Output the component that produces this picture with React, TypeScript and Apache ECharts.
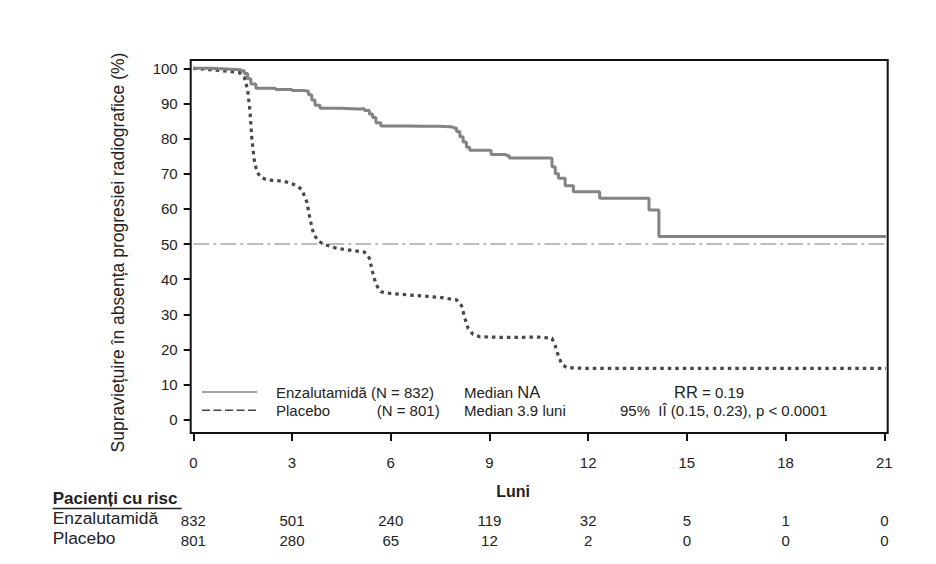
import React, { useEffect, useRef } from "react";
import * as echarts from "echarts";

// ---- data ----
const monthTicks = [0, 3, 6, 9, 12, 15, 18, 21];
const enzRisk = [832, 501, 240, 119, 32, 5, 1, 0];
const pboRisk = [801, 280, 65, 12, 2, 0, 0, 0];

// Enzalutamidă Kaplan–Meier points [month, %]
const enzMonths = [0, 0.5, 1.0, 1.45, 1.55, 1.65, 1.75, 1.9, 2.5, 3.0, 3.35, 3.5, 3.6, 3.7, 3.85, 4.5, 5.0, 5.2, 5.35, 5.45, 5.55, 5.7, 6.5, 7.0, 7.5, 7.9, 8.0, 8.1, 8.2, 8.3, 8.4, 9.0, 9.05, 9.5, 9.6, 10.85, 10.9, 11.0, 11.1, 11.3, 11.55, 12.35, 13.85, 14.15, 21.05];
const enzSurv = [100, 99.8, 99.6, 99.3, 98.5, 97, 95.5, 94.3, 94.0, 93.7, 93.5, 92.5, 91, 89.5, 88.6, 88.4, 88.5, 88.0, 87, 86, 84.5, 83.6, 83.5, 83.5, 83.3, 83.0, 82.0, 80.5, 79, 77.5, 76.7, 76.6, 75.5, 75.2, 74.5, 74.4, 72, 70, 68.7, 66.6, 64.9, 63.0, 59.7, 52.1, 52.1];

// Placebo Kaplan–Meier points [month, %]
const pboMonths = [0, 0.5, 1.0, 1.4, 1.55, 1.65, 1.72, 1.78, 1.85, 1.93, 2.05, 2.25, 2.6, 2.85, 3.1, 3.3, 3.45, 3.55, 3.65, 3.8, 4.0, 4.35, 4.8, 5.2, 5.35, 5.45, 5.55, 5.7, 6.0, 6.7, 7.5, 8.0, 8.15, 8.25, 8.35, 8.5, 8.7, 9.5, 10.5, 10.9, 11.0, 11.1, 11.2, 11.35, 12, 21.05];
const pboSurv = [100, 99.6, 99.2, 98.8, 97.5, 94, 88, 80, 74, 70.6, 69, 68.2, 68.0, 67.6, 66.8, 65.5, 62, 57, 53, 50.8, 49.8, 48.8, 48.2, 47.7, 46.0, 42, 38.5, 36.4, 35.9, 35.4, 34.8, 34.1, 32.5, 29, 26, 24.3, 23.6, 23.4, 23.5, 23.2, 21, 18, 15.8, 14.8, 14.6, 14.6];

const medianLevel = 50;
const medianSpan = [0, 21.05];

const FONT = "'Liberation Sans', Arial, sans-serif";

export default function App() {
  const ref = useRef<HTMLDivElement>(null);

  useEffect(() => {
    if (!ref.current) return;
    const chart = echarts.init(ref.current, null, { renderer: "svg" });

    const enzData = enzMonths.map((m, i) => [m, enzSurv[i]]);
    const pboData = pboMonths.map((m, i) => [m, pboSurv[i]]);
    const medData = medianSpan.map((m) => [m, medianLevel]);

    const riskAxis = (vals: number[], offset: number) => ({
      type: "value",
      gridIndex: 0,
      position: "bottom",
      min: 0,
      max: 21,
      interval: 3,
      offset,
      axisLine: { show: false, onZero: false },
      axisTick: { show: false },
      splitLine: { show: false },
      axisLabel: {
        margin: 0,
        fontFamily: FONT,
        fontSize: 15,
        color: "#222",
        formatter: (v: number) => String(vals[Math.round(v / 3)]),
      },
    });

    const txt = (text: string, x: number, y: number, extra: any = {}) => ({
      type: "text",
      x,
      y,
      style: {
        text,
        fontFamily: FONT,
        fontSize: 15,
        fill: "#222",
        verticalAlign: "middle",
        ...extra,
      },
    });

    chart.setOption({
      animation: false,
      backgroundColor: "#fff",
      grid: { left: 193.3, right: 51.7, top: 68.3, bottom: 144.3, containLabel: false },
      xAxis: [
        {
          type: "value",
          min: 0,
          max: 21,
          interval: 3,
          offset: 13.3,
          axisLine: { show: false, onZero: false },
          axisTick: { show: true, inside: false, length: 8, lineStyle: { color: "#111", width: 2 } },
          splitLine: { show: false },
          axisLabel: { margin: 22, fontFamily: FONT, fontSize: 15, color: "#222",
            formatter: (v: number) => (monthTicks.includes(v) ? String(v) : "") },
        },
        riskAxis(enzRisk, 93.6),
        riskAxis(pboRisk, 113.6),
      ],
      yAxis: {
        type: "value",
        min: 0,
        max: 100,
        interval: 10,
        offset: 2.6,
        axisLine: { show: false, onZero: false },
        axisTick: { show: true, length: 7, lineStyle: { color: "#111", width: 2 } },
        splitLine: { show: false },
        axisLabel: { margin: 13, fontFamily: FONT, fontSize: 15, color: "#222" },
      },
      series: [
        {
          type: "line",
          data: medData,
          symbol: "none",
          silent: true,
          clip: false,
          lineStyle: { color: "#a8a8a8", width: 1.5, type: [16, 4, 3, 4] },
          z: 1,
        },
        {
          name: "Enzalutamidă",
          type: "line",
          data: enzData,
          step: "end",
          symbol: "none",
          clip: false,
          lineStyle: { color: "#838383", width: 3 },
          z: 3,
        },
        {
          name: "Placebo",
          type: "line",
          data: pboData,
          symbol: "none",
          clip: false,
          lineStyle: { color: "#474747", width: 3.2, type: [3.5, 4], cap: "butt" },
          z: 2,
        },
      ],
      graphic: [
        {
          type: "rect",
          shape: { x: 190.7, y: 60, width: 697, height: 373 },
          style: { fill: "none", stroke: "#111", lineWidth: 2 },
          silent: true,
          z: 10,
        },
        {
          type: "text",
          x: 118,
          y: 252.5,
          rotation: Math.PI / 2,
          style: {
            text: "Supraviețuire în absența progresiei radiografice (%)",
            fontFamily: FONT,
            fontSize: 17.5,
            fill: "#222",
            align: "center",
            verticalAlign: "middle",
          },
        },
        // legend
        { type: "line", shape: { x1: 202, y1: 392, x2: 257, y2: 392 }, style: { stroke: "#858585", lineWidth: 1.5 } },
        { type: "line", shape: { x1: 202, y1: 410.3, x2: 257, y2: 410.3 }, style: { stroke: "#444", lineWidth: 1.5, lineDash: [8, 3.5] } },
        txt("Enzalutamidă (N = 832)", 276, 392),
        txt("Placebo", 276, 410.3),
        txt("(N = 801)", 376.7, 410.3),
        {
          type: "text",
          x: 464,
          y: 392,
          style: {
            text: "Median {b|NA}",
            fontFamily: FONT,
            fontSize: 15,
            fill: "#222",
            verticalAlign: "middle",
            rich: { b: { fontFamily: FONT, fontSize: 16.5, fill: "#222" } },
          },
        },
        txt("Median 3.9 luni", 464, 410.3),
        {
          type: "text",
          x: 674,
          y: 392,
          style: {
            text: "{b|RR} = 0.19",
            fontFamily: FONT,
            fontSize: 15,
            fill: "#222",
            verticalAlign: "middle",
            rich: { b: { fontFamily: FONT, fontSize: 16.5, fill: "#222" } },
          },
        },
        txt("95%  IÎ (0.15, 0.23), p < 0.0001", 620, 410.3),
        // x-axis title & risk table
        txt("Luni", 513, 491, { fontWeight: "bold", fontSize: 16, align: "center" }),
        txt("Pacienți cu risc", 52.7, 498.7, { fontWeight: "bold", fontSize: 17 }),
        { type: "line", shape: { x1: 52.7, y1: 508.5, x2: 181.7, y2: 508.5 }, style: { stroke: "#222", lineWidth: 1.3 } },
        txt("Enzalutamidă", 52.7, 518, { fontSize: 17.4 }),
        txt("Placebo", 52.7, 538, { fontSize: 17.4 }),
      ],
    });

    return () => chart.dispose();
  }, []);

  return (
    <div
      ref={ref}
      style={{ position: "absolute", left: 0, top: 0, width: 936, height: 564, background: "#fff" }}
    />
  );
}
